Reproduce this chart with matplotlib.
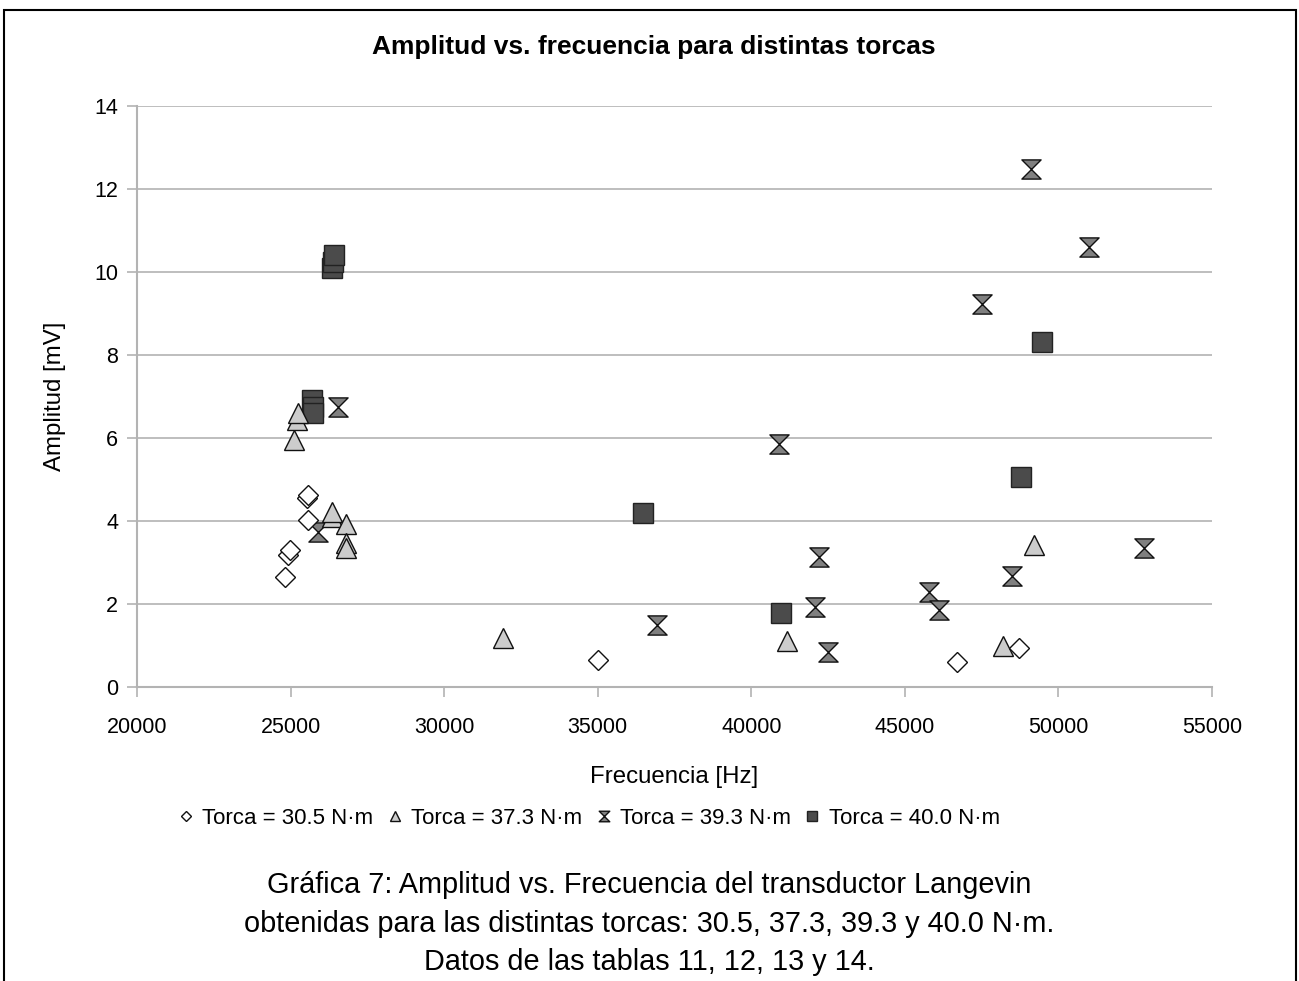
import numpy as np
import matplotlib.pyplot as plt
from matplotlib.patches import Rectangle
from matplotlib.path import Path

plt.rcParams['font.family'] = ['Liberation Sans', 'DejaVu Sans']

# Torca = 30.5 N·m
f_305 = [24820, 24920, 24980, 25570, 25540, 25570, 35020, 46710, 48700]
a_305 = [2.65, 3.18, 3.30, 4.02, 4.55, 4.63, 0.65, 0.60, 0.94]

# Torca = 37.3 N·m
f_373 = [25110, 25210, 25240, 26350, 26350, 26810, 26810, 26810, 31920, 41170, 48180, 49220]
a_373 = [5.95, 6.43, 6.60, 4.10, 4.22, 3.93, 3.47, 3.35, 1.18, 1.11, 0.99, 3.42]

# Torca = 39.3 N·m
f_393 = [25900, 26550, 36940, 40910, 42210, 42080, 42510, 45800, 46120,
         47520, 48500, 49120, 51010, 52800]
a_393 = [3.73, 6.75, 1.50, 5.86, 3.13, 1.93, 0.84, 2.29, 1.86,
         9.23, 2.67, 12.48, 10.60, 3.35]

# Torca = 40.0 N·m
f_400 = [26350, 26380, 26420, 25700, 25730, 25730, 36480, 40980, 48790, 49450]
a_400 = [10.10, 10.25, 10.41, 6.92, 6.75, 6.60, 4.19, 1.78, 5.06, 8.31]

labels = ['Torca = 30.5 N\u00b7m', 'Torca = 37.3 N\u00b7m',
          'Torca = 39.3 N\u00b7m', 'Torca = 40.0 N\u00b7m']

# hourglass marker: two triangles touching at the centre
hourglass = Path([(-1, 1), (1, 1), (0, 0), (1, -1), (-1, -1), (0, 0), (-1, 1)],
                 [Path.MOVETO, Path.LINETO, Path.LINETO, Path.LINETO,
                  Path.LINETO, Path.LINETO, Path.CLOSEPOLY])

fig = plt.figure(figsize=(12.99, 9.81), dpi=100)
ax = fig.add_axes([137/1299, 1 - 687/981, 1075/1299, 581/981])

ax.plot(f_400, a_400, ls='none', marker='s', ms=13.8, mfc='#4b4b4b', mec='#222222',
        mew=1.0, label=labels[3], zorder=3)
ax.plot(f_393, a_393, ls='none', marker=hourglass, ms=13.8, mfc='#808080', mec='#111111',
        mew=1.0, label=labels[2], zorder=4)
ax.plot(f_373, a_373, ls='none', marker='^', ms=14, mfc='#cccccc', mec='#111111',
        mew=1.0, label=labels[1], zorder=5)
ax.plot(f_305, a_305, ls='none', marker='D', ms=10, mfc='white', mec='#111111',
        mew=1.0, label=labels[0], zorder=6)

ax.set_xlim(20000, 55000)
ax.set_ylim(0, 14)
ax.set_xticks(np.arange(20000, 55001, 5000))
ax.set_yticks(np.arange(0, 15, 2))
ax.grid(axis='y', color='#b3b3b3', lw=1.2)
ax.set_axisbelow(True)
for s in ['top', 'right']:
    ax.spines[s].set_visible(False)
for s in ['left', 'bottom']:
    ax.spines[s].set_color('#b3b3b3')
    ax.spines[s].set_linewidth(1.5)
ax.tick_params(axis='both', colors='#b3b3b3', labelcolor='black', length=7.5,
               width=1.2, labelsize=15.5, direction='out')
ax.tick_params(axis='x', pad=14)
ax.tick_params(axis='y', pad=6)

ax.set_xlabel('Frecuencia [Hz]', fontsize=17.3, labelpad=20)
ax.set_ylabel('Amplitud [mV]', fontsize=17.3, labelpad=20)

fig.text(0.503, 1 - 47/981, 'Amplitud vs. frecuencia para distintas torcas',
         ha='center', va='center', fontsize=19, fontweight='bold')

# legend in the order of the series numbering
h, l = ax.get_legend_handles_labels()
order = [3, 2, 1, 0]
leg = fig.legend([h[i] for i in order], [l[i] for i in order], loc='center',
                 bbox_to_anchor=(0.453, 1 - 818/981), ncol=4, frameon=False,
                 fontsize=16, handlelength=0.8, handletextpad=0.35,
                 columnspacing=0.55, markerscale=0.55)

caption = ['Gr\u00e1fica 7: Amplitud vs. Frecuencia del transductor Langevin',
           'obtenidas para las distintas torcas: 30.5, 37.3, 39.3 y 40.0 N\u00b7m.',
           'Datos de las tablas 11, 12, 13 y 14.']
for i, line in enumerate(caption):
    fig.text(0.5, 1 - (885 + 38.5 * i)/981, line, ha='center', va='center', fontsize=20.8)

# page frame around the chart
fig.patches.append(Rectangle((4/1299, -0.05), 1292/1299, 1.05 - 10/981,
                             transform=fig.transFigure, fill=False,
                             edgecolor='black', lw=1.5))

fig.savefig('out.png', dpi=100)
